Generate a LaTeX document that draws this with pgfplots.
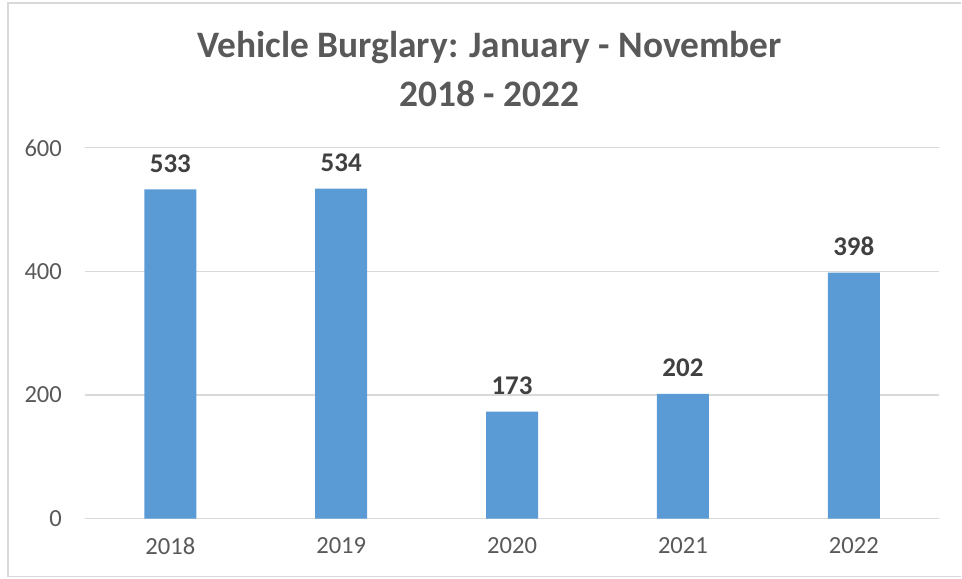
\documentclass[border=0pt]{standalone}
\usepackage{pgfplots}
\pgfplotsset{compat=1.18}
\usepackage{fontspec}
\setmainfont{Carlito}
\definecolor{barblue}{HTML}{5B9BD5}
\definecolor{txtgray}{HTML}{595959}
\definecolor{lblgray}{HTML}{404040}
\definecolor{gridgray}{HTML}{D9D9D9}

\begin{document}
\begin{tikzpicture}
% canvas: 1px of the reference = 0.5pt
\path (0,0) rectangle (481pt,289.5pt);
\draw[gridgray, line width=0.8pt] (481pt,288pt) -- (4pt,288pt) -- (4pt,1pt) -- (481pt,1pt);

\node[font=\fontsize{18.7}{21}\selectfont\bfseries, text=txtgray] at (245pt,265.5pt) {Vehicle Burglary: January - November};
\node[font=\fontsize{18.7}{21}\selectfont\bfseries, text=txtgray] at (245pt,242.5pt) {2018 - 2022};

\begin{axis}[
    at={(42.5pt,30pt)}, anchor=south west,
    scale only axis, width=427.5pt, height=185.5pt,
    ybar, bar width=26pt,
    xmin=-0.5, xmax=4.5, ymin=0, ymax=600,
    xtick=data, xticklabels={2018,2019,2020,2021,2022},
    ytick={0,200,400,600},
    axis x line*=bottom, axis y line*=left,
    x axis line style={gridgray, line width=0.6pt, -},
    y axis line style={draw=none},
    major tick length=0pt,
    ymajorgrids, major grid style={gridgray, line width=0.6pt},
    tick label style={font=\fontsize{12.3}{14}\selectfont, text=txtgray},
    /pgf/number format/assume math mode=true,
    yticklabel style={xshift=-8pt},
    xticklabel style={yshift=-6pt},
    nodes near coords,
    every node near coord/.append style={font=\fontsize{13.5}{15}\selectfont\bfseries, text=lblgray, yshift=5pt},
]
\addplot[fill=barblue, draw=none] coordinates {(0,533) (1,534) (2,173) (3,202) (4,398)};
\end{axis}
\end{tikzpicture}
\end{document}
